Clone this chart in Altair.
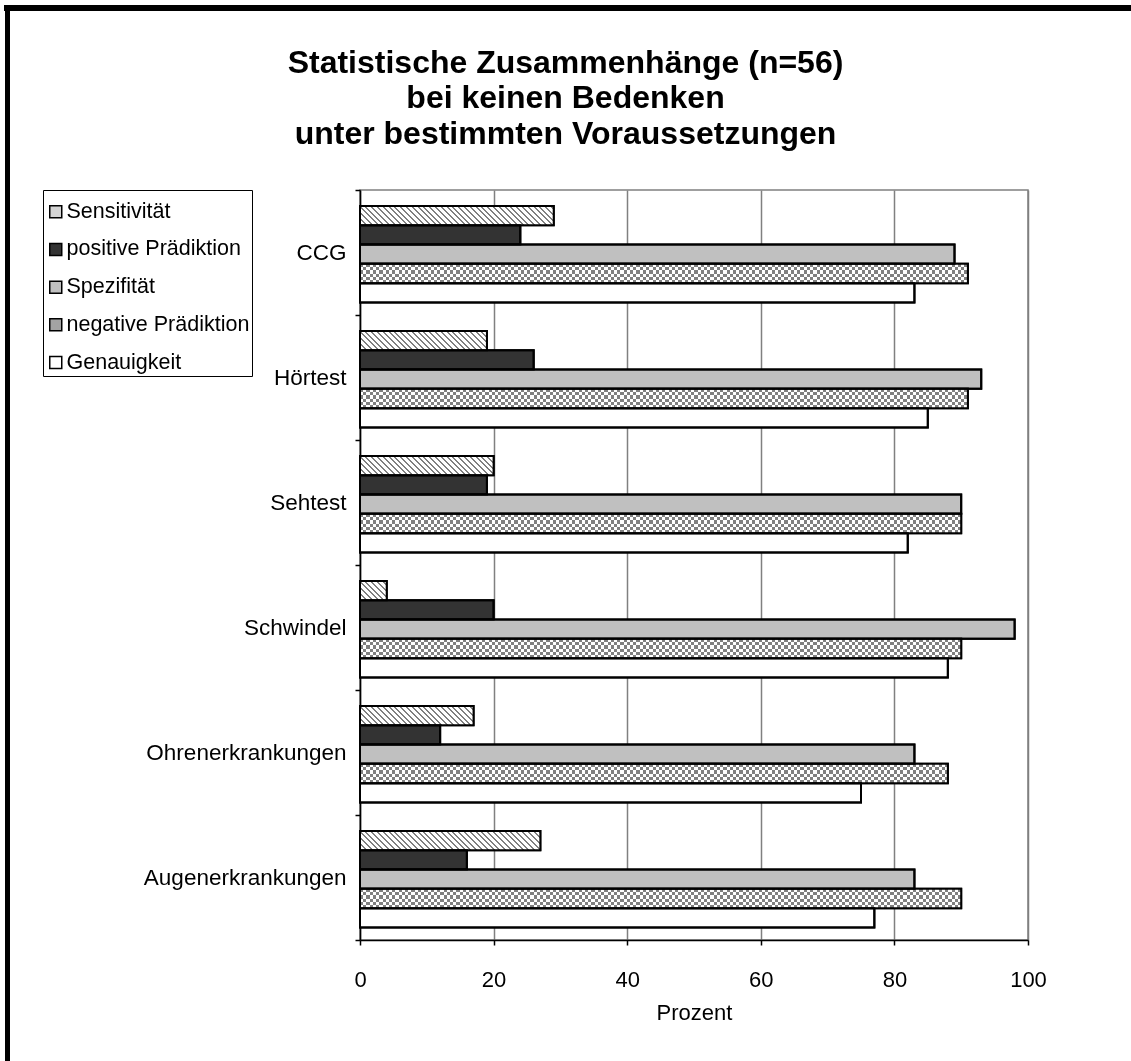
import altair as alt
import pandas as pd

# --- data -----------------------------------------------------------------
categories = ["CCG", "Hörtest", "Sehtest", "Schwindel",
              "Ohrenerkrankungen", "Augenerkrankungen"]
series = ["Sensitivität", "positive Prädiktion", "Spezifität",
          "negative Prädiktion", "Genauigkeit"]

sensitivitaet = [29, 19, 20, 4, 17, 27]
positive_praediktion = [24, 26, 19, 20, 12, 16]
spezifitaet = [89, 93, 90, 98, 83, 83]
negative_praediktion = [91, 91, 90, 90, 88, 90]
genauigkeit = [83, 85, 82, 88, 75, 77]

x_ticks = [0, 20, 40, 60, 80, 100]

values_by_series = {
    "Sensitivität": sensitivitaet,
    "positive Prädiktion": positive_praediktion,
    "Spezifität": spezifitaet,
    "negative Prädiktion": negative_praediktion,
    "Genauigkeit": genauigkeit,
}

rows = []
for s in series:
    for c, v in zip(categories, values_by_series[s]):
        rows.append({"kategorie": c, "kennwert": s, "prozent": v})
df = pd.DataFrame(rows)

# --- layout / style -------------------------------------------------------
FONT = "Liberation Sans"
PLOT_W, PLOT_H = 668, 750
PX_PER_UNIT = PLOT_W / 100
BAND = PLOT_H / len(categories)
OUTER_PAD = 0.74
BAR_H = BAND / (len(series) + 2 * OUTER_PAD)
GRAY = "#808080"
CELL = BAR_H / 6

legend_colors = ["#d4d4d4", "#333333", "#c0c0c0", "#a3a3a3", "#ffffff"]


def r(v):
    return round(min(max(v, 0.0), 1.0), 5)


def hatch_fill(w, h, period=5.8, stripe=2.0):
    """Diagonal (top-left to bottom-right) stripes at constant pixel pitch."""
    span = w + h
    k = w * span / (w * w + h * h)
    stops = []
    pos = 0.0
    while pos < span:
        a, b, c = pos / span, (pos + stripe) / span, (pos + period) / span
        stops += [{"offset": r(a), "color": GRAY}, {"offset": r(b), "color": GRAY}]
        if b < 1:
            stops += [{"offset": r(b), "color": "#ffffff"},
                      {"offset": r(c), "color": "#ffffff"}]
        pos += period
    return {"gradient": "linear", "x1": 0, "y1": 1,
            "x2": round(k, 5), "y2": round(1 - k * h / w, 5), "stops": stops}


def stripe_fill(length, cell, vertical):
    """Alternating black/white bands along x (columns) or y (rows)."""
    stops = []
    pos, j = 0.0, 0
    while pos < length - 1e-9:
        col = "#000000" if j % 2 else "#ffffff"
        stops += [{"offset": r(pos / length), "color": col},
                  {"offset": r((pos + cell) / length), "color": col}]
        pos += cell
        j += 1
    if vertical:
        return {"gradient": "linear", "x1": 0, "y1": 0, "x2": 0, "y2": 1, "stops": stops}
    return {"gradient": "linear", "x1": 0, "y1": 0, "x2": 1, "y2": 0, "stops": stops}


base = alt.Chart(df).encode(
    y=alt.Y(
        "kategorie:N",
        sort=categories,
        scale=alt.Scale(domain=categories, paddingInner=0, paddingOuter=0),
        axis=alt.Axis(
            title=None, labelFont=FONT, labelFontSize=22.5, labelColor="black",
            labelPadding=9, labelLimit=400, tickSize=5, tickBand="extent",
            tickColor="black", tickWidth=1.5, domainColor="black",
            domainWidth=1.5, grid=False,
        ),
    ),
    yOffset=alt.YOffset(
        "kennwert:N",
        sort=series,
        scale=alt.Scale(domain=series, paddingInner=0, paddingOuter=OUTER_PAD, align=0.56),
    ),
    x=alt.X(
        "prozent:Q",
        scale=alt.Scale(domain=[0, 100], nice=False),
        axis=alt.Axis(
            values=x_ticks, title="Prozent", titleFont=FONT, titleFontSize=22,
            titleFontWeight="normal", titleColor="black", titlePadding=12,
            labelFont=FONT, labelFontSize=22, labelColor="black", labelPadding=24,
            labelFlush=False, tickSize=5, tickColor="black", tickWidth=1.5,
            domainColor="black", domainWidth=1.5, grid=True, gridColor=GRAY,
            gridWidth=1.5,
        ),
    ),
)

bars = base.mark_bar(stroke="black", strokeWidth=2).encode(
    color=alt.Color(
        "kennwert:N",
        scale=alt.Scale(domain=series, range=legend_colors),
        legend=alt.Legend(
            title=" ", titleFontSize=9, titlePadding=0, titleLineHeight=9,
            orient="none", legendX=-317, legendY=0,
            symbolType="square", symbolSize=144, symbolStrokeColor="black",
            symbolStrokeWidth=1.5, labelFont=FONT, labelFontSize=21.5,
            labelColor="black", labelLimit=400, labelOffset=0, rowPadding=14.7,
            padding=2, strokeColor="black", fillColor="white",
        ),
    )
)

layers = [bars]


def one_bar(cat, kennwert):
    return base.transform_filter(
        (alt.datum.kategorie == cat) & (alt.datum.kennwert == kennwert)
    )


# hatched Sensitivität bars
for cat, v in zip(categories, sensitivitaet):
    layers.append(one_bar(cat, "Sensitivität").mark_bar(
        fill=hatch_fill(v * PX_PER_UNIT, BAR_H), strokeWidth=0))

# checkered negative Prädiktion bars: columns, rows (difference), then grey lift
for cat, v in zip(categories, negative_praediktion):
    layers.append(one_bar(cat, "negative Prädiktion").mark_bar(
        fill=stripe_fill(v * PX_PER_UNIT, CELL, vertical=False), strokeWidth=0))

neg = base.transform_filter(alt.datum.kennwert == "negative Prädiktion")
layers.append(neg.mark_bar(fill=stripe_fill(BAR_H, CELL, vertical=True),
                           strokeWidth=0, blend="difference"))
layers.append(neg.mark_bar(fill=GRAY, strokeWidth=0, blend="lighten"))

# outlines on top
layers.append(base.mark_bar(fillOpacity=0, stroke="black", strokeWidth=2))

# outer frame lines (top and left edge of the chart area)
frame_df = pd.DataFrame({"k": [0]})
frame_top = alt.Chart(frame_df).mark_rule(color="black", strokeWidth=6).encode(
    x=alt.value(-356), x2=alt.value(771), y=alt.value(-182))
frame_left = alt.Chart(frame_df).mark_rule(color="black", strokeWidth=5).encode(
    x=alt.value(-352.5), y=alt.value(-185), y2=alt.value(871))
layers += [frame_top, frame_left]

chart = alt.layer(*layers).properties(
    width=PLOT_W,
    height=PLOT_H,
    autosize=alt.AutoSizeParams(type="none"),
    padding={"left": 360, "top": 190, "right": 103, "bottom": 121},
    background="white",
    title=alt.TitleParams(
        text=["Statistische Zusammenhänge (n=56)", "bei keinen Bedenken",
              "unter bestimmten Voraussetzungen"],
        font=FONT, fontSize=32, fontWeight="bold", color="black",
        anchor="middle", dx=-128.5, lineHeight=35.5, offset=-148,
    ),
).configure_view(stroke=GRAY, strokeWidth=1.5)

chart.save("out.html", embed_options={"renderer": "svg", "actions": False})
